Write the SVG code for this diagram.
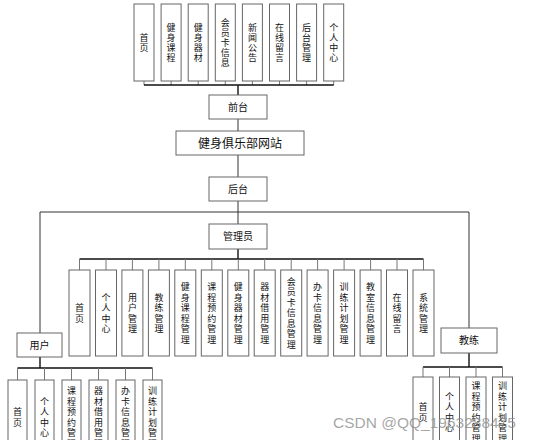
<svg xmlns="http://www.w3.org/2000/svg" width="540" height="440" viewBox="0 0 540 440">
<style>
.bx{fill:#fff;stroke:#666;stroke-width:1}
.t{font-family:"Noto Sans CJK SC","Noto Sans CJK JP",sans-serif;font-size:9px;fill:#111;text-anchor:middle}
.h{font-family:"Noto Sans CJK SC","Noto Sans CJK JP",sans-serif;font-size:10px;fill:#111;text-anchor:middle}
.bus{stroke:#111;stroke-width:1.4;fill:none}
.drop{stroke:#777;stroke-width:1;fill:none}
.ln{stroke:#333;stroke-width:1;fill:none}
</style>
<rect width="540" height="440" fill="#fff"/>
<g id="connectors">
<path class="drop" d="M144 81V85M171.1 81V85M198.2 81V85M225.3 81V85M252.4 81V85M279.5 81V85M306.6 81V85M333.7 81V85"/>
<path class="bus" d="M144 85H333.7M238 85V95"/>
<path class="ln" d="M238 119V131M238 155V177M238 201V212M40 212H469M40 212V333M469 212V328M238 212V224"/>
<path class="bus" d="M238 249V259M79.5 259H423.5"/>
<path class="drop" d="M79.5 259V270M106 259V270M132.4 259V270M158.9 259V270M185.3 259V270M211.8 259V270M238.3 259V270M264.7 259V270M291.2 259V270M317.6 259V270M344.1 259V270M370.6 259V270M397 259V270M423.5 259V270"/>
<path class="bus" d="M40 357V368M17.5 368H152.5"/>
<path class="drop" d="M17.5 368V380M44.5 368V380M71.5 368V380M98.5 368V380M125.5 368V380M152.5 368V380"/>
<path class="bus" d="M469 353V367M423 367H502.5"/>
<path class="drop" d="M423 367V377M449.5 367V377M476 367V377M502.5 367V377"/>
</g>
<g id="front-items">
<g id="n-top1"><rect class="bx" x="134" y="4" width="20" height="77"/><text class="t"><tspan x="144" y="40.7">首</tspan><tspan x="144" y="50.7">页</tspan></text></g>
<g id="n-top2"><rect class="bx" x="161.1" y="4" width="20" height="77"/><text class="t"><tspan x="171.1" y="30.7">健</tspan><tspan x="171.1" y="40.7">身</tspan><tspan x="171.1" y="50.7">课</tspan><tspan x="171.1" y="60.7">程</tspan></text></g>
<g id="n-top3"><rect class="bx" x="188.2" y="4" width="20" height="77"/><text class="t"><tspan x="198.2" y="30.7">健</tspan><tspan x="198.2" y="40.7">身</tspan><tspan x="198.2" y="50.7">器</tspan><tspan x="198.2" y="60.7">材</tspan></text></g>
<g id="n-top4"><rect class="bx" x="215.3" y="4" width="20" height="77"/><text class="t"><tspan x="225.3" y="25.7">会</tspan><tspan x="225.3" y="35.7">员</tspan><tspan x="225.3" y="45.7">卡</tspan><tspan x="225.3" y="55.7">信</tspan><tspan x="225.3" y="65.7">息</tspan></text></g>
<g id="n-top5"><rect class="bx" x="242.4" y="4" width="20" height="77"/><text class="t"><tspan x="252.4" y="30.7">新</tspan><tspan x="252.4" y="40.7">闻</tspan><tspan x="252.4" y="50.7">公</tspan><tspan x="252.4" y="60.7">告</tspan></text></g>
<g id="n-top6"><rect class="bx" x="269.5" y="4" width="20" height="77"/><text class="t"><tspan x="279.5" y="30.7">在</tspan><tspan x="279.5" y="40.7">线</tspan><tspan x="279.5" y="50.7">留</tspan><tspan x="279.5" y="60.7">言</tspan></text></g>
<g id="n-top7"><rect class="bx" x="296.6" y="4" width="20" height="77"/><text class="t"><tspan x="306.6" y="30.7">后</tspan><tspan x="306.6" y="40.7">台</tspan><tspan x="306.6" y="50.7">管</tspan><tspan x="306.6" y="60.7">理</tspan></text></g>
<g id="n-top8"><rect class="bx" x="323.7" y="4" width="20" height="77"/><text class="t"><tspan x="333.7" y="30.7">个</tspan><tspan x="333.7" y="40.7">人</tspan><tspan x="333.7" y="50.7">中</tspan><tspan x="333.7" y="60.7">心</tspan></text></g>
</g>
<g id="n-front"><rect class="bx" x="209" y="95" width="58" height="24"/><text class="h" x="238" y="110.5">前台</text></g>
<g id="n-site"><rect class="bx" x="176" y="131" width="128" height="24"/><text class="h" x="240" y="147.5" style="font-size:12px">健身俱乐部网站</text></g>
<g id="n-back"><rect class="bx" x="209" y="177" width="58" height="24"/><text class="h" x="238" y="192.5">后台</text></g>
<g id="n-admin"><rect class="bx" x="209" y="224" width="58" height="25"/><text class="h" x="238" y="240">管理员</text></g>
<g id="admin-items">
<g id="n-a1"><rect class="bx" x="69" y="270" width="21" height="86"/><text class="t"><tspan x="79.5" y="311">首</tspan><tspan x="79.5" y="321.5">页</tspan></text></g>
<g id="n-a2"><rect class="bx" x="95.5" y="270" width="21" height="86"/><text class="t"><tspan x="106" y="300.5">个</tspan><tspan x="106" y="311">人</tspan><tspan x="106" y="321.5">中</tspan><tspan x="106" y="332">心</tspan></text></g>
<g id="n-a3"><rect class="bx" x="121.9" y="270" width="21" height="86"/><text class="t"><tspan x="132.4" y="300.5">用</tspan><tspan x="132.4" y="311">户</tspan><tspan x="132.4" y="321.5">管</tspan><tspan x="132.4" y="332">理</tspan></text></g>
<g id="n-a4"><rect class="bx" x="148.4" y="270" width="21" height="86"/><text class="t"><tspan x="158.9" y="300.5">教</tspan><tspan x="158.9" y="311">练</tspan><tspan x="158.9" y="321.5">管</tspan><tspan x="158.9" y="332">理</tspan></text></g>
<g id="n-a5"><rect class="bx" x="174.8" y="270" width="21" height="86"/><text class="t"><tspan x="185.3" y="290">健</tspan><tspan x="185.3" y="300.5">身</tspan><tspan x="185.3" y="311">课</tspan><tspan x="185.3" y="321.5">程</tspan><tspan x="185.3" y="332">管</tspan><tspan x="185.3" y="342.5">理</tspan></text></g>
<g id="n-a6"><rect class="bx" x="201.3" y="270" width="21" height="86"/><text class="t"><tspan x="211.8" y="290">课</tspan><tspan x="211.8" y="300.5">程</tspan><tspan x="211.8" y="311">预</tspan><tspan x="211.8" y="321.5">约</tspan><tspan x="211.8" y="332">管</tspan><tspan x="211.8" y="342.5">理</tspan></text></g>
<g id="n-a7"><rect class="bx" x="227.8" y="270" width="21" height="86"/><text class="t"><tspan x="238.3" y="290">健</tspan><tspan x="238.3" y="300.5">身</tspan><tspan x="238.3" y="311">器</tspan><tspan x="238.3" y="321.5">材</tspan><tspan x="238.3" y="332">管</tspan><tspan x="238.3" y="342.5">理</tspan></text></g>
<g id="n-a8"><rect class="bx" x="254.2" y="270" width="21" height="86"/><text class="t"><tspan x="264.7" y="290">器</tspan><tspan x="264.7" y="300.5">材</tspan><tspan x="264.7" y="311">借</tspan><tspan x="264.7" y="321.5">用</tspan><tspan x="264.7" y="332">管</tspan><tspan x="264.7" y="342.5">理</tspan></text></g>
<g id="n-a9"><rect class="bx" x="280.7" y="270" width="21" height="86"/><text class="t"><tspan x="291.2" y="284.7">会</tspan><tspan x="291.2" y="295.2">员</tspan><tspan x="291.2" y="305.7">卡</tspan><tspan x="291.2" y="316.2">信</tspan><tspan x="291.2" y="326.7">息</tspan><tspan x="291.2" y="337.2">管</tspan><tspan x="291.2" y="347.7">理</tspan></text></g>
<g id="n-a10"><rect class="bx" x="307.1" y="270" width="21" height="86"/><text class="t"><tspan x="317.6" y="290">办</tspan><tspan x="317.6" y="300.5">卡</tspan><tspan x="317.6" y="311">信</tspan><tspan x="317.6" y="321.5">息</tspan><tspan x="317.6" y="332">管</tspan><tspan x="317.6" y="342.5">理</tspan></text></g>
<g id="n-a11"><rect class="bx" x="333.6" y="270" width="21" height="86"/><text class="t"><tspan x="344.1" y="290">训</tspan><tspan x="344.1" y="300.5">练</tspan><tspan x="344.1" y="311">计</tspan><tspan x="344.1" y="321.5">划</tspan><tspan x="344.1" y="332">管</tspan><tspan x="344.1" y="342.5">理</tspan></text></g>
<g id="n-a12"><rect class="bx" x="360.1" y="270" width="21" height="86"/><text class="t"><tspan x="370.6" y="290">教</tspan><tspan x="370.6" y="300.5">室</tspan><tspan x="370.6" y="311">信</tspan><tspan x="370.6" y="321.5">息</tspan><tspan x="370.6" y="332">管</tspan><tspan x="370.6" y="342.5">理</tspan></text></g>
<g id="n-a13"><rect class="bx" x="386.5" y="270" width="21" height="86"/><text class="t"><tspan x="397" y="300.5">在</tspan><tspan x="397" y="311">线</tspan><tspan x="397" y="321.5">留</tspan><tspan x="397" y="332">言</tspan></text></g>
<g id="n-a14"><rect class="bx" x="413" y="270" width="21" height="86"/><text class="t"><tspan x="423.5" y="300.5">系</tspan><tspan x="423.5" y="311">统</tspan><tspan x="423.5" y="321.5">管</tspan><tspan x="423.5" y="332">理</tspan></text></g>
</g>
<g id="n-user"><rect class="bx" x="17" y="333" width="45" height="24"/><text class="h" x="39.5" y="348.5">用户</text></g>
<g id="user-items">
<g id="n-u1"><rect class="bx" x="8" y="380" width="19" height="76"/><text class="t"><tspan x="17.5" y="415">首</tspan><tspan x="17.5" y="425.5">页</tspan></text></g>
<g id="n-u2"><rect class="bx" x="35" y="380" width="19" height="76"/><text class="t"><tspan x="44.5" y="404.5">个</tspan><tspan x="44.5" y="415">人</tspan><tspan x="44.5" y="425.5">中</tspan><tspan x="44.5" y="436">心</tspan></text></g>
<g id="n-u3"><rect class="bx" x="62" y="380" width="19" height="76"/><text class="t"><tspan x="71.5" y="394">课</tspan><tspan x="71.5" y="404.5">程</tspan><tspan x="71.5" y="415">预</tspan><tspan x="71.5" y="425.5">约</tspan><tspan x="71.5" y="436">管</tspan><tspan x="71.5" y="446.5">理</tspan></text></g>
<g id="n-u4"><rect class="bx" x="89" y="380" width="19" height="76"/><text class="t"><tspan x="98.5" y="394">器</tspan><tspan x="98.5" y="404.5">材</tspan><tspan x="98.5" y="415">借</tspan><tspan x="98.5" y="425.5">用</tspan><tspan x="98.5" y="436">管</tspan><tspan x="98.5" y="446.5">理</tspan></text></g>
<g id="n-u5"><rect class="bx" x="116" y="380" width="19" height="76"/><text class="t"><tspan x="125.5" y="394">办</tspan><tspan x="125.5" y="404.5">卡</tspan><tspan x="125.5" y="415">信</tspan><tspan x="125.5" y="425.5">息</tspan><tspan x="125.5" y="436">管</tspan><tspan x="125.5" y="446.5">理</tspan></text></g>
<g id="n-u6"><rect class="bx" x="143" y="380" width="19" height="76"/><text class="t"><tspan x="152.5" y="394">训</tspan><tspan x="152.5" y="404.5">练</tspan><tspan x="152.5" y="415">计</tspan><tspan x="152.5" y="425.5">划</tspan><tspan x="152.5" y="436">管</tspan><tspan x="152.5" y="446.5">理</tspan></text></g>
</g>
<g id="n-coach"><rect class="bx" x="441" y="328" width="56" height="25"/><text class="h" x="469" y="344">教练</text></g>
<g id="coach-items">
<g id="n-c1"><rect class="bx" x="413" y="377" width="20" height="72"/><text class="t"><tspan x="423" y="410">首</tspan><tspan x="423" y="420.5">页</tspan></text></g>
<g id="n-c2"><rect class="bx" x="439.5" y="377" width="20" height="72"/><text class="t"><tspan x="449.5" y="399.5">个</tspan><tspan x="449.5" y="410">人</tspan><tspan x="449.5" y="420.5">中</tspan><tspan x="449.5" y="431">心</tspan></text></g>
<g id="n-c3"><rect class="bx" x="466" y="377" width="20" height="72"/><text class="t"><tspan x="476" y="389">课</tspan><tspan x="476" y="399.5">程</tspan><tspan x="476" y="410">预</tspan><tspan x="476" y="420.5">约</tspan><tspan x="476" y="431">管</tspan><tspan x="476" y="441.5">理</tspan></text></g>
<g id="n-c4"><rect class="bx" x="492.5" y="377" width="20" height="72"/><text class="t"><tspan x="502.5" y="389">训</tspan><tspan x="502.5" y="399.5">练</tspan><tspan x="502.5" y="410">计</tspan><tspan x="502.5" y="420.5">划</tspan><tspan x="502.5" y="431">管</tspan><tspan x="502.5" y="441.5">理</tspan></text></g>
</g>
<text x="333" y="428" style="font-family:'Liberation Sans',sans-serif;font-size:15.5px;fill:#888;fill-opacity:0.75">CSDN @QQ_1963288475</text>
</svg>
